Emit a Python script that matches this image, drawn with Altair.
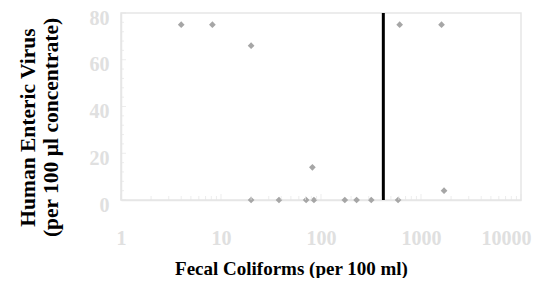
import altair as alt
import pandas as pd

# Data
fecal_coliforms = [4, 8.2, 20, 20, 38, 71, 82, 85, 173, 227, 318, 590, 612, 1604, 1700]
enteric_virus = [75, 75, 66, 0, 0, 0, 14, 0, 0, 0, 0, 0, 75, 75, 4]
threshold = [420]

x_major = [1, 10, 100, 1000, 10000]
x_minor = [m * d for d in [1, 10, 100, 1000] for m in range(2, 10)]
y_major = [0, 20, 40, 60, 80]
y_minor = [v for v in range(4, 80, 4) if v % 20 != 0]

W, H = 400, 187
AXIS_GRAY = "#e6e6e6"
LABEL_GRAY = "#e0e0e0"
FONT = "Liberation Serif"

pts_df = pd.DataFrame({"fc": fecal_coliforms, "virus": enteric_virus})
thr_df = pd.DataFrame({"fc": threshold, "virus": [0], "virus_end": [80]})
xmaj_df = pd.DataFrame({"fc": x_major})
xmin_df = pd.DataFrame({"fc": x_minor})
ymaj_df = pd.DataFrame({"virus": y_major})
ymin_df = pd.DataFrame({"virus": y_minor})

xscale = alt.Scale(type="log", domain=[1, 10000])
yscale = alt.Scale(domain=[0, 80])

xaxis = alt.Axis(
    values=x_major, ticks=False, grid=False, format="d",
    title="Fecal Coliforms (per 100 ml)",
    titleX=170, titleY=74, titleAlign="center", titleBaseline="alphabetic",
    labelPadding=28, labelFlush=False,
    labelAlign={"condition": {"test": "datum.value >= 10000", "value": "right"}, "value": "center"},
    labelOffset={"condition": {"test": "datum.value >= 10000", "value": 10}, "value": 0},
)
yaxis = alt.Axis(
    values=y_major, ticks=False, grid=False,
    title=["Human Enteric Virus", "(per 100 \u00b5l concentrate)"],
    titleX=-104, titleY=114, titleAlign="center", titleBaseline="top",
    titleAngle=270, titleLineHeight=23, labelPadding=12, labelOffset=5,
)

X = alt.X("fc:Q", scale=xscale, axis=xaxis)
Y = alt.Y("virus:Q", scale=yscale, axis=yaxis)

points = alt.Chart(pts_df).mark_point(
    shape="diamond", filled=True, color="#a6a6a6", size=45, opacity=1
).encode(x=X, y=Y)

line = alt.Chart(thr_df).mark_rule(color="black", strokeWidth=3).encode(
    x=X, y=Y, y2="virus_end:Q",
)

xmaj = alt.Chart(xmaj_df).mark_tick(orient="vertical", size=6, thickness=1, color=AXIS_GRAY).encode(
    x=X, y=alt.value(H - 3)
)
xmin = alt.Chart(xmin_df).mark_tick(orient="vertical", size=4, thickness=1, color=AXIS_GRAY).encode(
    x=X, y=alt.value(H - 2)
)
ymaj = alt.Chart(ymaj_df).mark_tick(orient="horizontal", size=5, thickness=1, color=AXIS_GRAY).encode(
    y=Y, x=alt.value(2.5)
)
ymin = alt.Chart(ymin_df).mark_tick(orient="horizontal", size=3, thickness=1, color=AXIS_GRAY).encode(
    y=Y, x=alt.value(1.5)
)

chart = alt.layer(points, line, xmin, xmaj, ymin, ymaj).properties(
    width=W, height=H,
    autosize=alt.AutoSizeParams(type="none"),
    padding={"left": 113, "top": 5, "right": 19, "bottom": 78},
).configure_view(
    stroke=AXIS_GRAY, strokeWidth=1.5
).configure_axis(
    domainColor=AXIS_GRAY, domainWidth=1.5,
    labelFont=FONT, labelFontSize=20, labelFontWeight="bold", labelColor=LABEL_GRAY,
    titleFont=FONT, titleFontSize=19, titleFontWeight="bold", titleColor="black",
).configure_axisLeft(
    titleFontSize=21.5
)

chart.save("out.html", embed_options={"renderer": "svg", "actions": False})
